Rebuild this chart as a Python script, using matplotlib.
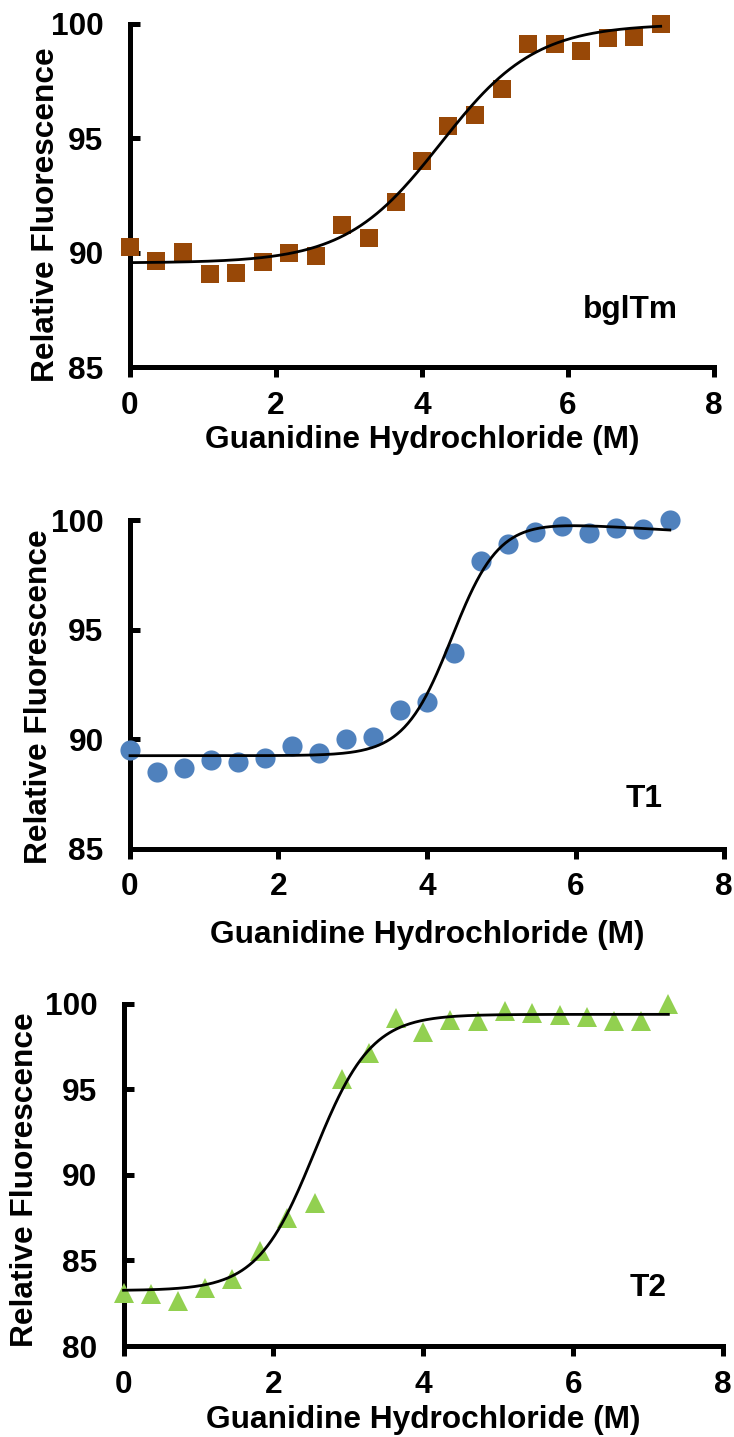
import numpy as np
import matplotlib
matplotlib.use('Agg')
import matplotlib.pyplot as plt

plt.rcParams['font.family'] = ['Liberation Sans', 'DejaVu Sans']
plt.rcParams['font.weight'] = 'bold'
#%% Datos: fluorescencia relativa vs GdnHCl
conc = [0, 0.36, 0.73, 1.09, 1.45, 1.82, 2.18, 2.55, 2.91, 3.27, 3.64,
        4.00, 4.36, 4.73, 5.09, 5.45, 5.82, 6.18, 6.55, 6.91, 7.27]

fl_bglTm = [90.25, 89.64, 90.05, 89.06, 89.09, 89.60, 89.98, 89.85, 91.19, 90.65, 92.21,
            94.03, 95.54, 96.00, 97.15, 99.11, 99.14, 98.82, 99.39, 99.45, 100.0]
fl_T1 = [89.52, 88.48, 88.70, 89.06, 88.94, 89.12, 89.70, 89.35, 90.00, 90.08, 91.33,
         91.67, 93.94, 98.14, 98.91, 99.44, 99.74, 99.39, 99.62, 99.59, 100.0]
fl_T2 = [83.10, 83.04, 82.66, 83.37, 83.91, 85.56, 87.50, 88.37, 95.58, 97.13, 99.17,
         98.33, 99.07, 99.00, 99.57, 99.46, 99.34, 99.22, 99.00, 99.00, 100.0]

# parametros del ajuste sigmoide (base, tope, pendiente del tope, Cm, ancho)
fit_bglTm = (89.55, 100.0, 0.0, 4.255, 0.65)
fit_T1 = (89.24, 101.0, -0.2, 4.34, 0.32)
fit_T2 = (83.24, 99.38, 0.0, 2.546, 0.38)

def boltzmann(x, base, top, k, x0, s):
    return base + (top + k*x - base)/(1 + np.exp((x0 - x)/s))

#%% Figura
fig = plt.figure(figsize=(7.34, 14.37), dpi=100)
paneles = [
    dict(rect=[0.1771, 0.7446, 0.7956, 0.2387], y=fl_bglTm, fit=fit_bglTm, m='s', ms=13,
         c='#984807', ylim=(85, 100), yt=[85, 90, 95, 100], txt='bglTm', txy=(6.86, 87.14),
         ylab=(-0.1438, 0.4446), xlab=-0.236),
    dict(rect=[0.1771, 0.4095, 0.8093, 0.2286], y=fl_T1, fit=fit_T1, m='o', ms=14.5,
         c='#4F81BD', ylim=(85, 100), yt=[85, 90, 95, 100], txt='T1', txy=(6.92, 86.91),
         ylab=(-0.154, 0.4627), xlab=-0.2877),
    dict(rect=[0.1683, 0.0633, 0.8168, 0.2382], y=fl_T2, fit=fit_T2, m='^', ms=15,
         c='#92D050', ylim=(80, 100), yt=[80, 85, 90, 95, 100], txt='T2', txy=(7.0, 82.9),
         ylab=(-0.1643, 0.4864), xlab=-0.2396),
]

fs = 22.8
for p in paneles:
    ax = fig.add_axes(p['rect'])
    ax.plot(conc, p['y'], p['m'], ms=p['ms'], color=p['c'], mec=p['c'], mew=0,
            clip_on=False, zorder=3)
    xf = np.linspace(conc[0], conc[-1], 300)
    ax.plot(xf, boltzmann(xf, *p['fit']), color='k', lw=2, clip_on=False, zorder=4)

    ax.set_xlim(0, 8)
    ax.set_ylim(*p['ylim'])
    ax.set_xticks([0, 2, 4, 6, 8])
    ax.set_yticks(p['yt'])
    for s in ['top', 'right']:
        ax.spines[s].set_visible(False)
    for s in ['left', 'bottom']:
        ax.spines[s].set_linewidth(3.6)
        ax.spines[s].set_capstyle('projecting')
    ax.tick_params(axis='x', direction='out', length=7, width=3.6, pad=10, labelsize=fs)
    ax.tick_params(axis='y', direction='in', length=7, width=3.6, pad=19, labelsize=fs)
    for lab in ax.get_xticklabels() + ax.get_yticklabels():
        lab.set_fontweight('bold')

    ax.set_xlabel('Guanidine Hydrochloride (M)', fontsize=fs, fontweight='bold', va='baseline')
    ax.xaxis.set_label_coords(0.5, p['xlab'])
    ax.set_ylabel('Relative Fluorescence', fontsize=fs, fontweight='bold', va='center')
    ax.yaxis.set_label_coords(*p['ylab'])
    ax.text(*p['txy'], p['txt'], fontsize=fs, fontweight='bold', ha='center', va='baseline')

fig.savefig('out.png', dpi=100)
